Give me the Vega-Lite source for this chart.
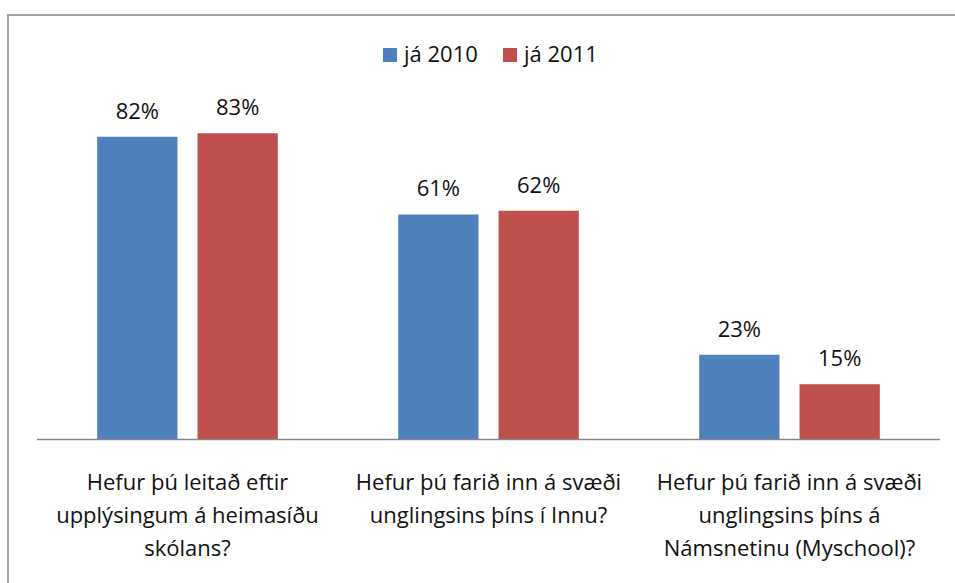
{
  "$schema": "https://vega.github.io/schema/vega-lite/v6.json",
  "width": 961,
  "height": 576,
  "autosize": {"type": "none"},
  "padding": {"left": 8, "top": 15, "right": 0, "bottom": 0},
  "background": "white",
  "config": {
    "view": {"stroke": "#A6A6A6", "strokeWidth": 2},
    "font": "Open Sans",
    "text": {"font": "Open Sans", "color": "#111111"}
  },
  "datasets": {
    "bars": [
      {"q": "Hefur þú leitað eftir\nupplýsingum á heimasíðu\nskólans?", "year": "já 2010", "value": 0.82},
      {"q": "Hefur þú leitað eftir\nupplýsingum á heimasíðu\nskólans?", "year": "já 2011", "value": 0.83},
      {"q": "Hefur þú farið inn á svæði\nunglingsins þíns í Innu?", "year": "já 2010", "value": 0.61},
      {"q": "Hefur þú farið inn á svæði\nunglingsins þíns í Innu?", "year": "já 2011", "value": 0.62},
      {"q": "Hefur þú farið inn á svæði\nunglingsins þíns á\nNámsnetinu (Myschool)?", "year": "já 2010", "value": 0.23},
      {"q": "Hefur þú farið inn á svæði\nunglingsins þíns á\nNámsnetinu (Myschool)?", "year": "já 2011", "value": 0.15}
    ],
    "questions": [
      {"q": "Hefur þú leitað eftir\nupplýsingum á heimasíðu\nskólans?"},
      {"q": "Hefur þú farið inn á svæði\nunglingsins þíns í Innu?"},
      {"q": "Hefur þú farið inn á svæði\nunglingsins þíns á\nNámsnetinu (Myschool)?"}
    ]
  },
  "encoding": {
    "x": {
      "field": "q",
      "type": "nominal",
      "sort": null,
      "axis": null,
      "scale": {"paddingInner": 0.4, "paddingOuter": 0.2963}
    }
  },
  "layer": [
    {
      "data": {"name": "bars"},
      "mark": {"type": "bar"},
      "encoding": {
        "xOffset": {"field": "year", "type": "nominal", "scale": {"paddingInner": 0.2, "paddingOuter": 0}},
        "y": {"field": "value", "type": "quantitative", "axis": null, "scale": {"domain": [-0.41, 1.15], "nice": false, "zero": false}},
        "color": {
          "field": "year",
          "type": "nominal",
          "scale": {"domain": ["já 2010", "já 2011"], "range": ["#4F81BD", "#C0504D"]},
          "legend": {
            "orient": "none",
            "legendX": 371,
            "legendY": 29,
            "direction": "horizontal",
            "title": null,
            "symbolType": "square",
            "symbolSize": 196,
            "symbolStrokeWidth": 0,
            "labelFont": "Open Sans",
            "labelFontSize": 22,
            "labelColor": "#111111",
            "labelOffset": 3,
            "columnPadding": 21,
            "padding": 0
          }
        }
      }
    },
    {
      "data": {"name": "bars"},
      "mark": {"type": "text", "baseline": "alphabetic", "dy": -18, "fontSize": 22},
      "encoding": {
        "xOffset": {"field": "year", "type": "nominal", "scale": {"paddingInner": 0.2, "paddingOuter": 0}},
        "y": {"field": "value", "type": "quantitative"},
        "text": {"field": "value", "type": "quantitative", "format": ".0%"}
      }
    },
    {
      "data": {"name": "questions"},
      "mark": {"type": "tick", "size": 301, "thickness": 1.5, "color": "#868686", "opacity": 1},
      "encoding": {
        "y": {"datum": 0, "type": "quantitative"}
      }
    },
    {
      "data": {"name": "questions"},
      "mark": {"type": "text", "baseline": "top", "align": "center", "lineBreak": "\n", "lineHeight": 33, "fontSize": 22},
      "encoding": {
        "y": {"datum": -0.091, "type": "quantitative"},
        "text": {"field": "q", "type": "nominal"}
      }
    }
  ]
}
